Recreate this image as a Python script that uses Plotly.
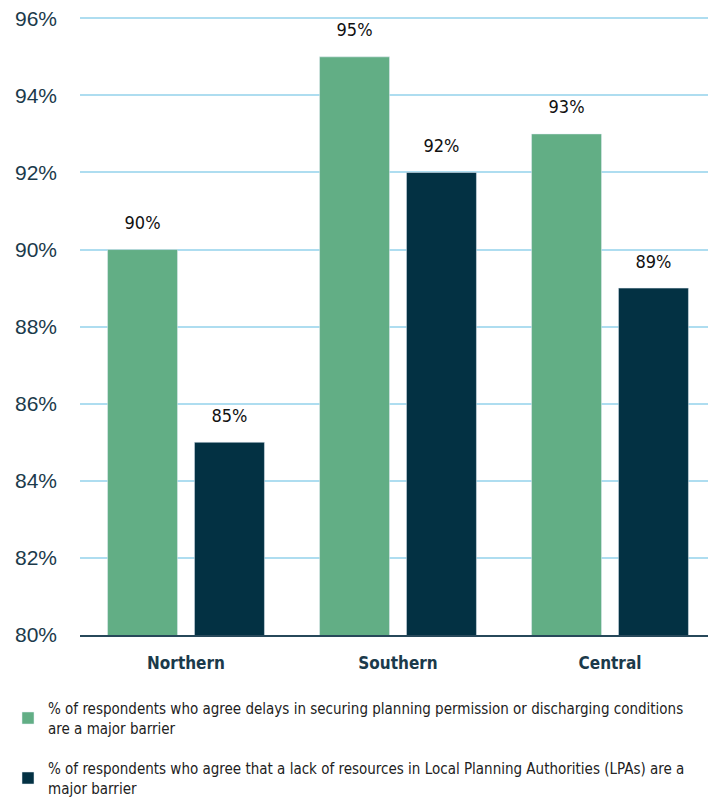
import plotly.graph_objects as go

categories = ["Northern", "Southern", "Central"]
delays = [90, 95, 93]
resources = [85, 92, 89]
series_names = [
    "% of respondents who agree delays in securing planning permission or discharging conditions<br>are a major barrier",
    "% of respondents who agree that a lack of resources in Local Planning Authorities (LPAs) are a<br>major barrier",
]
tick_vals = [80, 82, 84, 86, 88, 90, 92, 94, 96]
tick_text = [f"{v}%" for v in tick_vals]

GREEN = "#62AE85"
DARK = "#033143"
FONT = "DejaVu Sans Condensed, Liberation Sans Narrow, sans-serif"

fig = go.Figure()
for vals, name, color, grp in [(delays, series_names[0], GREEN, "a"),
                               (resources, series_names[1], DARK, "b")]:
    fig.add_trace(go.Bar(
        x=categories, y=vals, name=name, marker_color=color,
        legendgroup=grp, offsetgroup=grp,
    ))
for vals, grp in [(delays, "a"), (resources, "b")]:
    fig.add_trace(go.Scatter(
        x=categories, y=vals, mode="markers+text", offsetgroup=grp,
        marker=dict(size=24, opacity=0), showlegend=False, hoverinfo="skip",
        text=[f"{v}%" for v in vals], textposition="top center",
        textfont=dict(size=18, color="#111111", family=FONT), cliponaxis=False,
    ))

fig.update_layout(
    width=716, height=800,
    margin=dict(l=72, r=8, t=8, b=173, autoexpand=False),
    plot_bgcolor="white", paper_bgcolor="white",
    barmode="group", bargap=0.18, bargroupgap=0.195,
    scattermode="group", scattergap=0.18,
    showlegend=True,
    legend=dict(
        orientation="v", xref="container", yref="container",
        x=0.0, xanchor="left", y=0.145, yanchor="top",
        font=dict(size=15, color="#222222", family=FONT),
        tracegroupgap=18, itemwidth=30,
    ),
    xaxis=dict(
        showgrid=False, showline=True, linecolor="#27485A", linewidth=2,
        tickfont=dict(size=17, color="#1B3A4B", family=FONT),
        ticks="", tickangle=0,
        tickvals=categories, ticktext=[f"<b>{c}</b>" for c in categories],
        ticklabelstandoff=12,
    ),
    yaxis=dict(
        range=[80, 96.06], tickvals=tick_vals, ticktext=tick_text,
        showgrid=True, gridcolor="#AEDDF0", gridwidth=2,
        tickfont=dict(size=21, color="#1B3A4B", family="Liberation Sans, Arial, sans-serif"),
        zeroline=False, showline=False, ticklabelstandoff=22,
        ticklabeloverflow="allow",
    ),
)

fig.write_html("out.html")
